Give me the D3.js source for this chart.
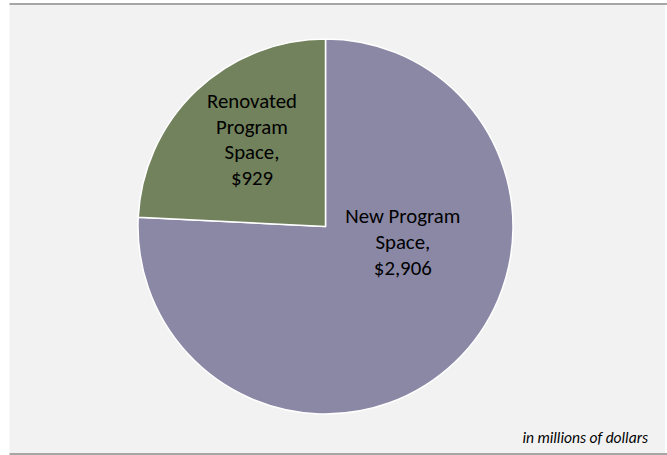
<!DOCTYPE html>
<html><head><meta charset="utf-8">
<script src="https://cdn.jsdelivr.net/npm/d3@7"></script>
<style>body{margin:0;background:#fff;} svg{display:block;}</style>
</head><body>
<script>
const categories = ["New Program Space", "Renovated Program Space"];
const values = [2906, 929];
const labelLines = [["New Program", "Space,", "$2,906"], ["Renovated", "Program", "Space,", "$929"]];
const footnote = "in millions of dollars";

const colors = ["#8b88a6", "#72825c"];
// label anchor placement (style): angle (deg) and radius fraction from pie center
const labelAnchor = [{a: 101, r: 0.42}, {a: 320, r: 0.61}];

const W = 667, H = 455;
const svg = d3.select("body").append("svg").attr("width", W).attr("height", H);

// panel
svg.append("rect").attr("x", 9.5).attr("y", 4).attr("width", 655.5).attr("height", 449).attr("fill", "#f2f2f2");
svg.append("line").attr("x1", 9.5).attr("x2", W).attr("y1", 4).attr("y2", 4).attr("stroke", "#a6a6a6").attr("stroke-width", 2);
svg.append("line").attr("x1", 9.5).attr("x2", W).attr("y1", 454).attr("y2", 454).attr("stroke", "#a6a6a6").attr("stroke-width", 2);

const cx = 325.5, cy = 226.5, R = 187.5;
const pie = d3.pie().sort(null).value(d => d)(values);
const arc = d3.arc().innerRadius(0).outerRadius(R);
const g = svg.append("g").attr("transform", `translate(${cx},${cy})`);
g.selectAll("path").data(pie).join("path")
  .attr("d", arc).attr("fill", (d, i) => colors[i])
  .attr("stroke", "#fff").attr("stroke-width", 1.5).attr("stroke-linejoin", "round");

const lh = 25.7;
pie.forEach((d, i) => {
  const la = labelAnchor[i];
  const ang = la.a * Math.PI / 180;
  const x = Math.sin(ang) * R * la.r, y = -Math.cos(ang) * R * la.r;
  const lines = labelLines[i];
  const t = g.append("text").attr("text-anchor", "middle")
    .attr("font-family", "Carlito, Lato, 'Open Sans', sans-serif").attr("font-size", 20.8).attr("fill", "#000");
  lines.forEach((s, k) => {
    t.append("tspan").attr("x", x).attr("y", y + (k - (lines.length - 1) / 2) * lh + 7.5).text(s);
  });
});

svg.append("text").attr("x", 648).attr("y", 443).attr("text-anchor", "end")
  .attr("font-family", "Carlito, Lato, 'Open Sans', sans-serif").attr("font-style", "italic")
  .attr("font-size", 15.5).attr("fill", "#000").text(footnote);
</script>
</body></html>
